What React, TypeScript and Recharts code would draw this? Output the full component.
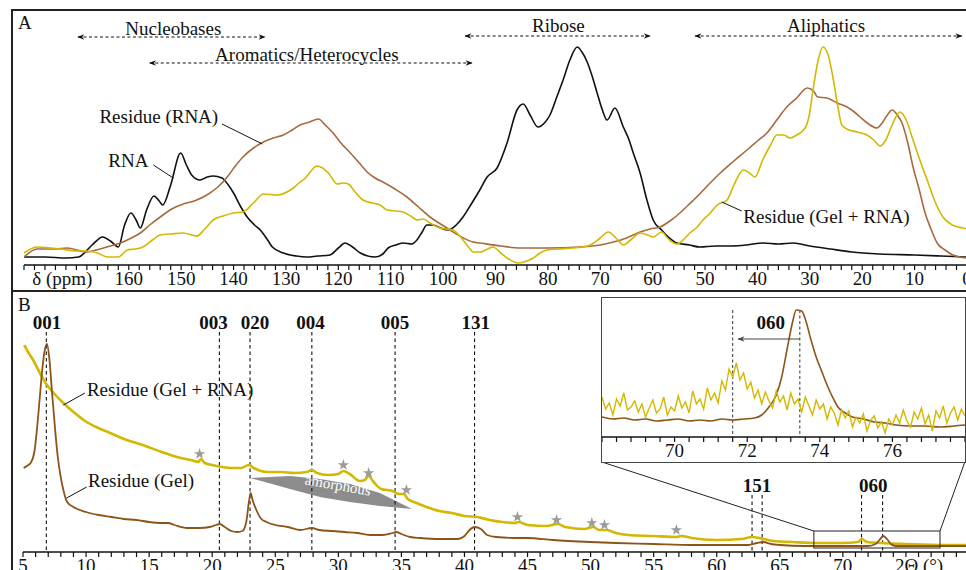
import React from "react";
import { ComposedChart, Line, Area, XAxis, YAxis, ReferenceLine, ReferenceDot, Symbols } from "recharts";

const SERIF = '"Liberation Serif", "DejaVu Serif", serif';
const BLACK = "#111";
const YELLOW = "#d4b700";
const BROWN_A = "#a8693d";
const BROWN_B = "#8b5518";

type P = [number, number];

// ---- panel A : 13C NMR (delta ppm, intensity) ----
const rnaA: P[] = [
  [180, 8], [176, 8], [172, 7], [169.6, 8], [167, 20], [165, 28], [163.5, 24], [162, 18], [160.8, 40], [159.6, 52],
  [158.6, 45], [157.8, 37], [156.6, 55], [155.2, 69], [154.2, 64], [153.5, 60], [152, 80], [150.1, 112], [149, 100],
  [148, 90], [146.4, 85], [145, 88], [143.9, 89], [142.2, 87], [141, 80], [140, 72], [138.6, 58], [137.4, 48], [136, 40],
  [134.9, 35], [133.5, 25], [132.6, 18], [130.5, 12], [128, 9], [126, 8], [124, 9], [121.6, 10], [120, 17], [118.7, 22],
  [117.3, 18], [115.8, 12], [113, 8], [111.5, 11], [110.5, 17], [109, 20], [107.6, 22], [106, 21], [105, 25], [104, 33],
  [103.1, 40], [101.9, 40], [100.5, 37], [99, 35], [97.5, 40], [96.2, 48], [94.5, 62], [93, 75], [91.6, 88], [89.7, 97],
  [87.8, 122], [85.9, 155], [84.7, 161], [83.4, 150], [81.9, 138], [80.5, 143], [79.6, 150], [78.3, 168], [77.1, 185],
  [75.8, 205], [74.4, 218], [73.5, 213], [72.5, 203], [71.5, 188], [70.6, 172], [69.6, 155], [68.7, 145], [67.2, 157],
  [65.6, 138], [64.5, 125], [63.7, 112], [62.4, 92], [61.1, 65], [59.9, 45], [58.3, 35], [57, 28], [55.4, 22], [53, 20],
  [51, 18], [48, 19], [45, 19], [42, 20], [38.9, 22], [36, 21], [33.2, 22], [30, 19], [26.1, 16], [22, 13], [16.6, 11],
  [10, 10], [5, 9], [0, 8],
];
const residueRnaA: P[] = [
  [180, 8], [177.5, 16], [174, 16], [171.8, 17], [168, 13], [165.5, 16], [163.5, 19], [161.6, 22], [159.5, 27], [157.8, 32],
  [156, 40], [154, 48], [151.8, 56], [149.6, 61], [147.5, 64], [145.1, 70], [143, 78], [141.2, 88], [139.8, 98], [138.2, 108],
  [136.2, 117], [134.3, 123], [132.4, 127], [130.5, 130], [128.8, 135], [127.3, 140], [125.5, 143], [123.8, 146], [122.5, 140],
  [121, 132], [119.5, 122], [117.7, 112], [116, 102], [114.5, 93], [113, 87], [111.5, 83], [109.2, 76], [106.9, 68],
  [104.7, 58], [102.5, 48], [100.5, 41], [98.7, 35], [96.5, 28], [94.3, 23], [93, 22], [89, 19], [85.3, 17], [80, 17],
  [73.9, 18], [70, 20], [67.5, 23], [65, 27], [62.4, 33], [60.5, 36], [58.6, 38], [56.7, 44], [54.8, 52], [53.2, 60],
  [51.6, 68], [49.4, 80], [47.1, 92], [44.5, 104], [42, 115], [40, 124], [38.2, 132], [36.3, 145], [34.4, 158], [32.5, 167],
  [30.5, 177], [29.3, 174], [28.5, 168], [26.7, 167], [24.8, 162], [22.9, 158], [21.5, 153], [20.4, 148], [18.8, 141],
  [17.2, 137], [16.2, 142], [15.2, 150], [14.3, 155], [13.3, 150], [12.4, 142], [11.3, 122], [10.3, 98], [9.1, 75], [8, 52],
  [6.8, 35], [5.7, 22], [4.2, 15], [2.7, 10], [0, 7],
];
const gelRnaA: P[] = [
  [180, 12], [177.5, 18], [175, 17], [173, 16], [170, 14], [168, 14], [166, 12], [164, 8], [162, 8], [160.3, 15], [158.8, 16],
  [157.3, 18], [155.5, 25], [154, 30], [152, 31], [149.6, 32], [147, 29], [145.5, 36], [143.9, 45], [142, 49], [140, 52],
  [138.2, 53], [136.2, 62], [134.3, 71], [131.7, 70], [128.6, 77], [127.5, 82], [126.3, 87], [125.2, 94], [124.2, 99],
  [123, 97], [121.9, 92], [120.2, 81], [119, 82], [118.1, 81], [116.8, 73], [115.3, 65], [113.5, 62], [112, 60], [110.7, 55],
  [109, 54], [107.6, 53], [106.2, 49], [105, 45], [103.8, 46], [102.5, 42], [101.1, 38], [99.5, 36], [98.1, 35], [97, 30],
  [96.2, 25], [95, 17], [94.3, 13], [93, 13], [91.5, 16], [90.5, 18], [89, 12], [87.5, 6], [85.7, 2], [84, 4], [82.8, 7],
  [81.5, 12], [80.2, 15], [78, 16], [75.2, 17], [73.5, 18], [71.9, 20], [70, 27], [68.5, 33], [67, 27], [65.6, 20], [64, 26],
  [62.4, 32], [61, 30], [59.9, 28], [58.3, 33], [57, 26], [55.4, 21], [54, 26], [52.9, 32], [51.5, 38], [50.4, 45], [49, 52],
  [47.7, 60], [45.8, 65], [44.5, 80], [42.7, 95], [41.5, 92], [40.5, 88], [39, 105], [37.5, 120], [36.3, 130], [35, 130],
  [33.8, 127], [32.5, 130], [30.9, 137], [30.1, 150], [29.4, 175], [28.4, 205], [27.5, 218], [26.5, 210], [25.6, 188],
  [24.7, 160], [23.9, 140], [22.5, 135], [21, 133], [19.1, 130], [17.8, 125], [16.6, 119], [15.5, 125], [14.3, 140],
  [12.8, 153], [11.6, 145], [10.3, 125], [9, 105], [7.6, 85], [6, 62], [4.6, 48], [2.8, 40], [0.8, 37], [0, 36],
];

// ---- panel B : XRD (2theta, intensity) ----
const gelB: P[] = [
  [5.05, 84], [5.3, 86], [5.6, 89], [5.9, 100], [6.1, 122], [6.3, 150], [6.5, 179], [6.7, 200], [6.9, 208], [7.1, 192],
  [7.3, 160], [7.55, 122], [7.75, 96], [7.95, 78], [8.2, 62], [8.5, 50], [9, 45], [10, 40], [11, 37], [12, 35], [13, 33],
  [14, 32], [15, 30], [16, 29], [16.5, 29], [17, 27], [18, 24], [19, 24], [19.8, 25], [20.3, 27], [20.6, 28], [21, 25],
  [21.5, 21], [22, 20], [22.4, 21], [22.7, 30], [22.9, 49], [23.05, 59], [23.2, 52], [23.5, 42], [23.9, 33], [24.3, 30],
  [25, 27], [26, 25], [27, 22], [27.9, 24], [28.5, 22], [29.5, 21], [30.5, 20], [31.5, 19], [32.5, 17], [33.5, 17],
  [34.3, 19], [34.6, 20], [35, 18], [35.7, 15], [36.5, 14], [38, 13], [39.5, 13], [40, 16], [40.4, 22], [40.8, 25],
  [41.3, 23], [41.8, 17], [42.5, 15], [44, 14], [45, 14], [47, 12], [50, 10], [52, 9], [55, 8], [58, 7], [60, 7],
  [62.5, 7], [63.2, 9], [63.7, 10], [64.3, 8], [65, 7], [67, 6], [70, 6], [72, 6], [72.6, 8], [72.9, 12], [73.2, 16],
  [73.5, 13], [73.8, 8], [74.2, 6], [76, 6], [78, 6], [80, 6],
];
const gelRnaB: P[] = [
  [5.1, 207], [5.4, 200], [5.8, 192], [6.3, 180], [6.9, 167], [7.5, 158], [8.2, 149], [9, 140], [9.8, 132], [10.8, 125],
  [11.9, 119], [13, 113], [14.5, 107], [16, 100], [17.2, 95], [18.3, 92], [18.9, 90], [19.1, 93], [19.4, 89], [20, 87],
  [20.8, 85], [21.5, 84], [22.3, 84], [22.9, 87], [23.3, 84], [24.3, 80], [25.5, 80], [26.5, 79], [27.5, 80], [27.9, 82],
  [28.3, 79], [29.2, 77], [30, 78], [30.4, 81], [30.9, 78], [31.7, 71], [32.1, 72], [32.4, 76], [32.8, 70], [33.4, 63],
  [34.3, 61], [34.8, 58], [35.2, 58], [35.5, 53], [36.2, 49], [37, 45], [38, 41], [39, 39], [40, 36], [41, 35], [42, 32],
  [43, 30], [44, 29], [44.3, 30], [45, 27], [46.5, 26], [47.4, 28], [48, 25], [49.5, 23], [50.2, 25], [50.7, 22],
  [51.3, 22], [52, 19], [53, 17], [55, 16], [56.8, 15], [57.2, 16], [58, 14], [60, 12], [62, 13], [62.8, 15], [63.4, 14],
  [64.5, 11], [66, 10], [68, 9], [70, 9], [71.2, 10], [71.5, 13], [71.9, 10], [73, 9], [75, 8], [78, 7], [80, 7],
];
const starsB: P[] = [
  [19, 98], [30.4, 87], [32.4, 79], [35.4, 62], [44.2, 35], [47.3, 32], [50.1, 29], [51.1, 27], [56.8, 22],
];
const amorphousWedge = [
  { x: 23.0, r: [74, 74] },
  { x: 26.17, r: [63, 76] },
  { x: 28.54, r: [55, 73] },
  { x: 30.92, r: [50, 68] },
  { x: 33.3, r: [46, 59] },
  { x: 35.84, r: [43, 43] },
];
const peaksB: { label: string; lines: number[]; tx: number; ty: number; top: number }[] = [
  { label: "001", lines: [6.85], tx: 6.9, ty: 223, top: 220 },
  { label: "003", lines: [20.57], tx: 20.1, ty: 223, top: 220 },
  { label: "020", lines: [23.0], tx: 23.4, ty: 223, top: 220 },
  { label: "004", lines: [27.9], tx: 27.8, ty: 223, top: 220 },
  { label: "005", lines: [34.5], tx: 34.5, ty: 223, top: 220 },
  { label: "131", lines: [40.8], tx: 40.9, ty: 223, top: 220 },
  { label: "151", lines: [62.8, 63.6], tx: 63.2, ty: 60, top: 57 },
  { label: "060", lines: [71.48, 73.15], tx: 72.4, ty: 60, top: 57 },
];

// ---- inset (68-78 deg) ----
const gelInset: P[] = [
  [68, 20], [68.3, 18], [68.6, 19], [68.9, 17], [69.2, 18], [69.5, 16], [69.8, 17], [70.1, 18], [70.4, 16], [70.7, 17],
  [71, 16], [71.3, 18], [71.6, 17], [71.9, 18], [72.2, 19], [72.4, 22], [72.6, 30], [72.8, 42], [72.95, 60], [73.1, 88],
  [73.25, 115], [73.35, 127], [73.5, 126], [73.6, 118], [73.75, 98], [73.9, 80], [74.05, 66], [74.2, 52], [74.35, 40],
  [74.5, 30], [74.7, 24], [74.9, 20], [75.2, 18], [75.5, 15], [75.8, 14], [76.1, 12], [76.5, 11], [76.9, 11], [77.3, 10],
  [77.7, 11], [78, 12],
];
const gelRnaInset: P[] = [
  [68.0, 40], [68.1, 28], [68.2, 34], [68.3, 22], [68.4, 38], [68.5, 31], [68.6, 44], [68.7, 27], [68.8, 30], [68.9, 36],
  [69.0, 25], [69.1, 33], [69.2, 20], [69.3, 29], [69.4, 37], [69.5, 24], [69.6, 28], [69.7, 40], [69.8, 22], [69.9, 30],
  [70.0, 26], [70.1, 41], [70.2, 29], [70.3, 35], [70.4, 24], [70.5, 46], [70.6, 33], [70.7, 38], [70.8, 28], [70.9, 49],
  [71.0, 37], [71.1, 44], [71.2, 34], [71.3, 56], [71.4, 47], [71.5, 68], [71.6, 60], [71.7, 74], [71.8, 57], [71.9, 64],
  [72.0, 48], [72.1, 55], [72.2, 39], [72.3, 47], [72.4, 33], [72.5, 45], [72.6, 36], [72.7, 29], [72.8, 46], [72.9, 35],
  [73.0, 41], [73.1, 27], [73.2, 44], [73.3, 33], [73.4, 38], [73.5, 25], [73.6, 40], [73.7, 31], [73.8, 22], [73.9, 37],
  [74.0, 28], [74.1, 33], [74.2, 18], [74.3, 30], [74.4, 24], [74.5, 12], [74.6, 27], [74.7, 19], [74.8, 26], [74.9, 10],
  [75.0, 20], [75.1, 14], [75.2, 23], [75.3, 6], [75.4, 17], [75.5, 21], [75.6, 9], [75.7, 15], [75.8, 4], [75.9, 18],
  [76.0, 12], [76.1, 22], [76.2, 14], [76.3, 27], [76.4, 16], [76.5, 10], [76.6, 25], [76.7, 18], [76.8, 29], [76.9, 13],
  [77.0, 22], [77.1, 6], [77.2, 26], [77.3, 19], [77.4, 31], [77.5, 14], [77.6, 24], [77.7, 30], [77.8, 17], [77.9, 28],
  [78.0, 21],
];

const ticksA = Array.from({ length: 91 }, (_, i) => i * 2);
const ticksB = Array.from({ length: 76 }, (_, i) => 5 + i);
const ticksInset = Array.from({ length: 26 }, (_, i) => Math.round((68 + 0.4 * i) * 10) / 10);

const pts = (arr: P[]) => arr.map(([x, y]) => ({ x, y }));

const txt = (key: string, x: number, y: number, text: string, anchor = "middle", bold = false, size = 19) => (
  <ReferenceDot
    key={key}
    x={x}
    y={y}
    r={0}
    shape={(p: any) => (
      <text x={p.cx} y={p.cy} textAnchor={anchor} fontFamily={SERIF} fontSize={size} fontWeight={bold ? 700 : 400} fill={BLACK}>
        {text}
      </text>
    )}
  />
);

const seg = (key: string, x1: number, y1: number, x2: number, y2: number, style: any) => (
  <ReferenceLine
    key={key}
    segment={[{ x: x1, y: y1 }, { x: x2, y: y2 }]}
    ifOverflow="visible"
    shape={(p: any) => <line x1={p.x1} y1={p.y1} x2={p.x2} y2={p.y2} fill="none" {...style} />}
  />
);

const dashedArrow = { stroke: BLACK, strokeWidth: 1.1, strokeDasharray: "3 2.5", markerStart: "url(#ah)", markerEnd: "url(#ah)" };
const leader = { stroke: BLACK, strokeWidth: 1 };
const vDash = { stroke: BLACK, strokeWidth: 1.1, strokeDasharray: "3.5 3" };

const tickText = (x: number, y: number, s: string, anchor = "middle", dx = 0) => (
  <text x={x + dx} y={y} dy="0.71em" textAnchor={anchor} fontFamily={SERIF} fontSize={19} fill={BLACK}>
    {s}
  </text>
);

const TickA = (props: any) => {
  const { x, y, payload } = props;
  const v = payload.value;
  if (v === 170) return tickText(x, y, "δ (ppm)", "middle", -14);
  if (v % 10 !== 0 || v > 160) return <g />;
  return tickText(x, y, String(v));
};

const TickB = (props: any) => {
  const { x, y, payload } = props;
  const v = payload.value;
  if (v === 75) return tickText(x, y, "2Θ (°)", "start", -11);
  if (v % 5 !== 0 || v > 75) return <g />;
  return tickText(x, y, String(v));
};

const TickInset = (props: any) => {
  const { x, y, payload } = props;
  const v = payload.value;
  const r = Math.round(v);
  if (Math.abs(v - r) > 1e-6 || r % 2 !== 0 || r <= 68 || r >= 78) return <g />;
  return tickText(x, y, String(r));
};

const axisLine = { stroke: BLACK, strokeWidth: 1.6 };
const tickLine = { stroke: BLACK, strokeWidth: 1.2 };

function PanelA() {
  return (
    <ComposedChart width={1000} height={292} margin={{ top: 15, right: 33, left: 24, bottom: 0 }}>
      <XAxis
        type="number"
        dataKey="x"
        domain={[0, 180]}
        reversed
        ticks={ticksA}
        interval={0}
        tickSize={5}
        height={27}
        axisLine={axisLine}
        tickLine={tickLine}
        tick={<TickA />}
        allowDataOverflow
      />
      <YAxis hide type="number" dataKey="y" domain={[0, 250]} allowDataOverflow />
      {seg("nb", 169.7, 228, 134, 228, dashedArrow)}
      {seg("ar", 156, 202, 94.5, 202, dashedArrow)}
      {seg("rb", 95.8, 229, 60.5, 229, dashedArrow)}
      {seg("al", 51.9, 229, 1.0, 229, dashedArrow)}
      {txt("tnb", 151.5, 230, "Nucleobases")}
      {txt("tar", 126, 204, "Aromatics/Heterocycles")}
      {txt("trb", 78, 233, "Ribose")}
      {txt("tal", 26.9, 233, "Aliphatics")}
      <Line data={pts(rnaA)} dataKey="y" type="monotone" stroke={BLACK} strokeWidth={1.6} dot={false} isAnimationActive={false} />
      <Line data={pts(residueRnaA)} dataKey="y" type="monotone" stroke={BROWN_A} strokeWidth={1.6} dot={false} isAnimationActive={false} />
      <Line data={pts(gelRnaA)} dataKey="y" type="monotone" stroke={YELLOW} strokeWidth={1.6} dot={false} isAnimationActive={false} />
      {seg("l1", 142.2, 141, 134.5, 121, leader)}
      {seg("l2", 155.3, 100, 151.5, 87, leader)}
      {seg("l3", 46.8, 63, 43.0, 54, leader)}
      {txt("t1", 165.6, 142, "Residue (RNA)", "start")}
      {txt("t2", 163.9, 98, "RNA", "start")}
      {txt("t3", 42.7, 42, "Residue (Gel + RNA)", "start")}
    </ComposedChart>
  );
}

function PanelB() {
  return (
    <ComposedChart width={1000} height={300} margin={{ top: 10, right: 31, left: 23, bottom: 0 }}>
      <XAxis
        type="number"
        dataKey="x"
        domain={[5, 80]}
        ticks={ticksB}
        interval={0}
        tickSize={5}
        height={40}
        axisLine={axisLine}
        tickLine={tickLine}
        tick={<TickB />}
        allowDataOverflow
      />
      <YAxis hide type="number" dataKey="y" domain={[0, 250]} allowDataOverflow />
      {peaksB.flatMap((pk) => pk.lines.map((lx, i) => seg(`v${pk.label}${i}`, lx, pk.top, lx, 0, vDash)))}
      {peaksB.map((pk) => txt(`p${pk.label}${pk.tx}`, pk.tx, pk.ty, pk.label, "middle", true))}
      <Area data={amorphousWedge} dataKey="r" type="linear" stroke="none" fill="#8c8c8c" fillOpacity={1} isAnimationActive={false} />
      <ReferenceDot
        x={29.9}
        y={62}
        r={0}
        shape={(p: any) => (
          <text x={p.cx} y={p.cy} textAnchor="middle" fontFamily={SERIF} fontSize={15} fill="#fff" transform={`rotate(10 ${p.cx} ${p.cy})`}>
            amorphous
          </text>
        )}
      />
      <Line data={pts(gelRnaB)} dataKey="y" type="monotone" stroke={YELLOW} strokeWidth={2.6} dot={false} isAnimationActive={false} />
      <Line data={pts(gelB)} dataKey="y" type="monotone" stroke={BROWN_B} strokeWidth={1.8} dot={false} isAnimationActive={false} />
      {starsB.map(([sx, sy], i) => (
        <ReferenceDot
          key={`s${i}`}
          x={sx}
          y={sy}
          r={0}
          shape={(p: any) => <Symbols cx={p.cx} cy={p.cy} type="star" size={40} fill="#9a9a9a" stroke="none" />}
        />
      ))}
      {seg("g1", 9.91, 159, 8.2, 147, leader)}
      {seg("g2", 10.05, 65, 8.46, 54, leader)}
      {txt("tg1", 10.07, 156, "Residue (Gel + RNA)", "start")}
      {txt("tg2", 10.15, 65, "Residue (Gel)", "start")}
      <ReferenceLine
        segment={[{ x: 67.7, y: 4 }, { x: 77.7, y: 21 }]}
        ifOverflow="visible"
        shape={(p: any) => (
          <rect
            x={Math.min(p.x1, p.x2)}
            y={Math.min(p.y1, p.y2)}
            width={Math.abs(p.x2 - p.x1)}
            height={Math.abs(p.y2 - p.y1)}
            fill="none"
            stroke="#222"
            strokeWidth={1}
          />
        )}
      />
      {seg("c1", 50.9, 90, 67.7, 21, { stroke: "#222", strokeWidth: 1 })}
      {seg("c2", 79.67, 90, 77.7, 21, { stroke: "#222", strokeWidth: 1 })}
    </ComposedChart>
  );
}

function Inset() {
  return (
    <ComposedChart width={363} height={164} margin={{ top: 5, right: 0, left: 0, bottom: 0 }}>
      <XAxis
        type="number"
        dataKey="x"
        domain={[68, 78]}
        ticks={ticksInset}
        interval={0}
        tickSize={5}
        height={25}
        axisLine={axisLine}
        tickLine={tickLine}
        tick={<TickInset />}
        allowDataOverflow
      />
      <YAxis hide type="number" dataKey="y" domain={[0, 134]} allowDataOverflow />
      {seg("d1", 71.6, 127, 71.6, 0, { stroke: "#333", strokeWidth: 1, strokeDasharray: "3 2.5" })}
      {seg("d2", 73.45, 127, 73.45, 0, { stroke: "#333", strokeWidth: 1, strokeDasharray: "3 2.5" })}
      <Line data={pts(gelInset)} dataKey="y" type="monotone" stroke={BROWN_B} strokeWidth={1.6} dot={false} isAnimationActive={false} />
      <Line data={pts(gelRnaInset)} dataKey="y" type="linear" stroke={YELLOW} strokeWidth={1.4} dot={false} isAnimationActive={false} />
      {seg("arr", 73.45, 98, 71.75, 98, { stroke: "#444", strokeWidth: 1.2, markerEnd: "url(#ah2)" })}
      {txt("t060", 72.65, 108, "060", "middle", true)}
    </ComposedChart>
  );
}

export default function App() {
  return (
    <div style={{ position: "absolute", left: 0, top: 0, width: 966, height: 570, overflow: "hidden", background: "#fff" }}>
      <svg width={0} height={0} style={{ position: "absolute" }}>
        <defs>
          <marker id="ah" viewBox="0 0 10 10" refX="9" refY="5" markerWidth="8" markerHeight="7" markerUnits="userSpaceOnUse" orient="auto-start-reverse">
            <path d="M0,1 L10,5 L0,9 L3,5 z" fill={BLACK} />
          </marker>
          <marker id="ah2" viewBox="0 0 10 10" refX="9" refY="5" markerWidth="9" markerHeight="7" markerUnits="userSpaceOnUse" orient="auto-start-reverse">
            <path d="M0,1 L10,5 L0,9 L3,5 z" fill="#444" />
          </marker>
        </defs>
      </svg>
      <div style={{ position: "absolute", left: 11, top: 9, width: 1000, height: 283, border: "2px solid #222", boxSizing: "border-box" }} />
      <div style={{ position: "absolute", left: 11, top: 290, width: 1000, height: 400, borderLeft: "2px solid #222", boxSizing: "border-box" }} />
      <div style={{ position: "absolute", left: 18, top: 12, fontFamily: SERIF, fontSize: 19, color: BLACK }}>A</div>
      <div style={{ position: "absolute", left: 18, top: 294, fontFamily: SERIF, fontSize: 19, color: BLACK }}>B</div>
      <div style={{ position: "absolute", left: 0, top: 0 }}>
        <PanelA />
      </div>
      <div style={{ position: "absolute", left: 0, top: 292 }}>
        <PanelB />
      </div>
      <div
        style={{
          position: "absolute",
          left: 601,
          top: 297,
          width: 365,
          height: 166,
          border: "1px solid #444",
          boxSizing: "border-box",
          background: "#fff",
        }}
      >
        <Inset />
      </div>
    </div>
  );
}
